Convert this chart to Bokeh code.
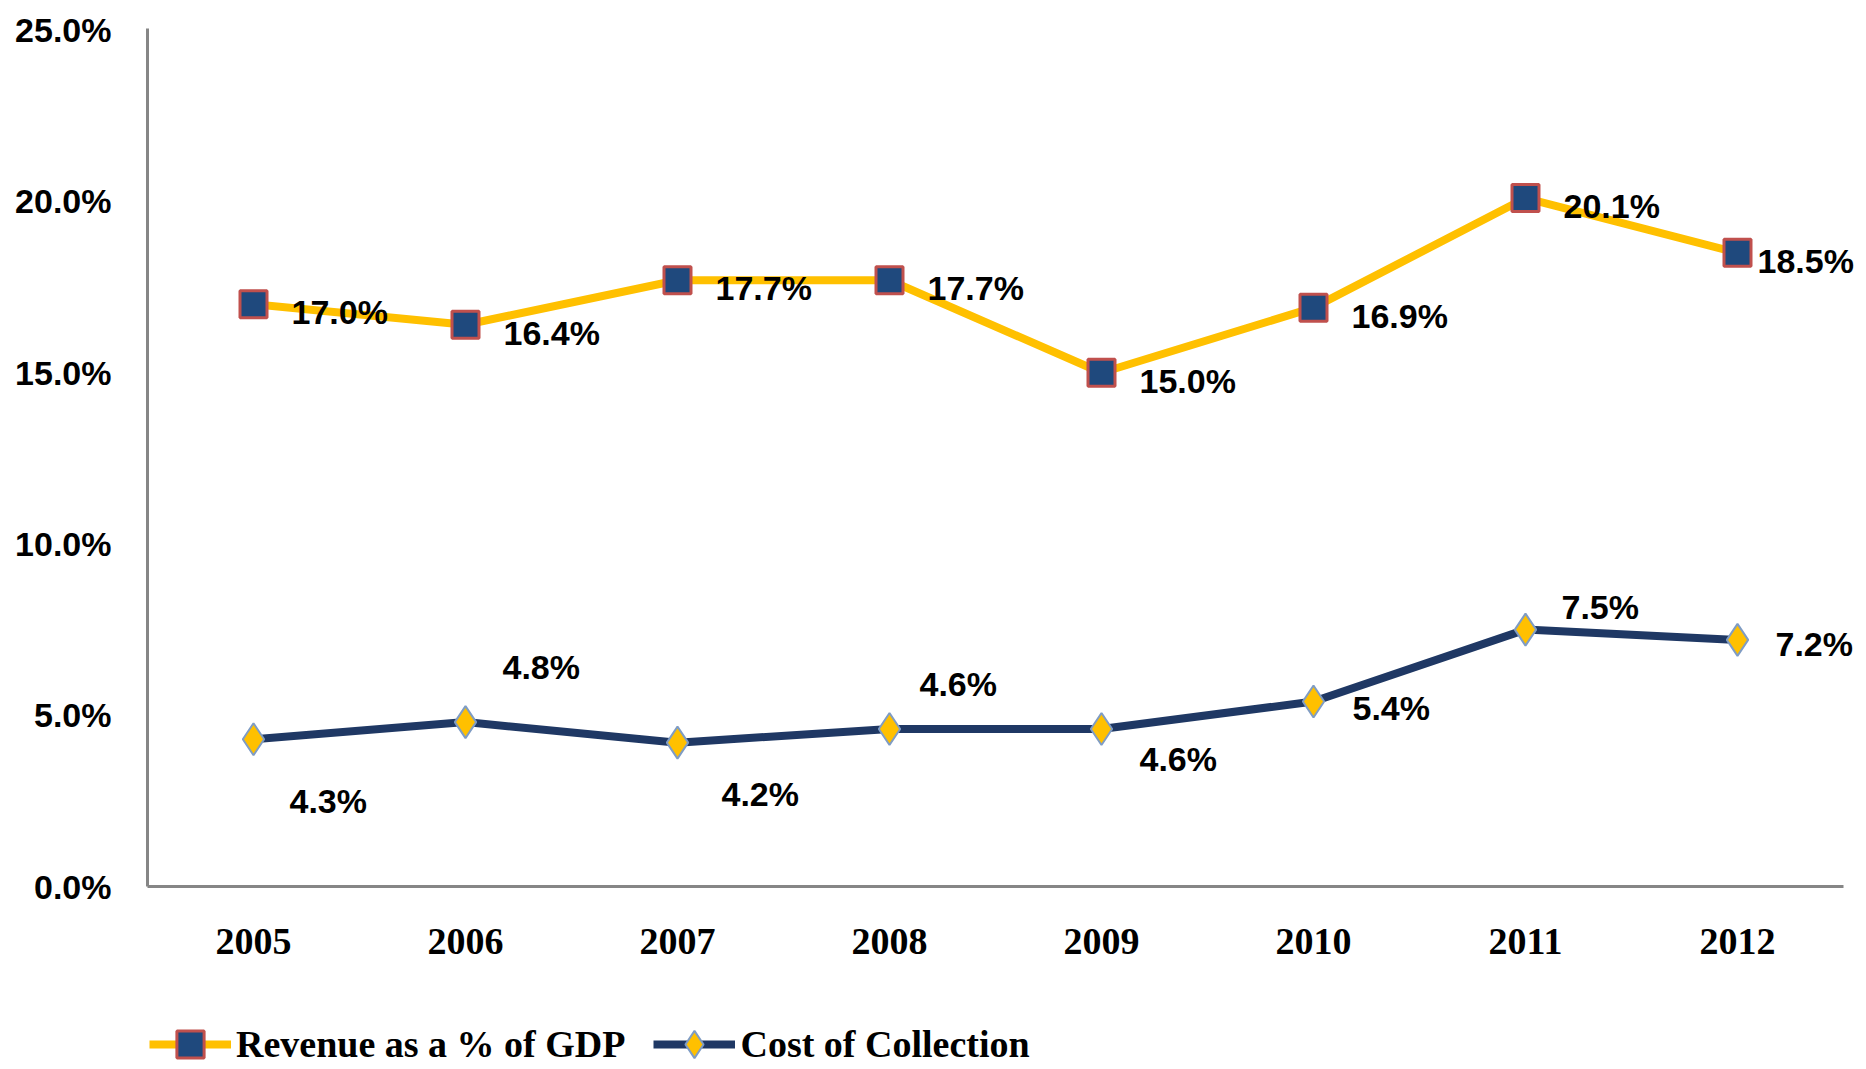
from bokeh.plotting import figure
from bokeh.layouts import column
from bokeh.models import (Range1d, FixedTicker, PrintfTickFormatter,
                          ColumnDataSource, Legend, LegendItem)
from bokeh.embed import file_html
from bokeh.resources import INLINE
from bokeh.core.properties import value

# ---- data ----
years = ["2005", "2006", "2007", "2008", "2009", "2010", "2011", "2012"]
revenue_pct = [17.0, 16.4, 17.7, 17.7, 15.0, 16.9, 20.1, 18.5]
cost_pct = [4.3, 4.8, 4.2, 4.6, 4.6, 5.4, 7.5, 7.2]
y_ticks = [0, 5, 10, 15, 20, 25]
series_names = ["Revenue as a % of GDP", "Cost of Collection"]

# ---- label placement (screen px offsets, style only) ----
rev_label_dx = [38, 38, 38, 38, 38, 38, 38, 20]
rev_label_dy = [8, 8, 8, 8, 8, 8, 8, 8]
cost_label_dx = [36, 37, 44, 30, 38, 39, 36, 38]
cost_label_dy = [62, -55, 51, -45, 30, 6, -23, 4]

REV_LINE = "#FFC000"
REV_FILL = "#1F497D"
REV_EDGE = "#C0504D"
COST_LINE = "#1F3864"
COST_FILL = "#FFC000"
COST_EDGE = "#7F9CC4"
AXIS = "#868686"

W = 1860
H1 = 980
H2 = 86
LEFT = 147
UNIT = 212.0  # px per category

xi = list(range(len(years)))
x_start = -0.5
x_end = x_start + (W - LEFT) / UNIT

rev_src = ColumnDataSource(dict(
    x=xi, y=revenue_pct,
    label=[f"{v:.1f}%" for v in revenue_pct],
    dx=rev_label_dx, dy=rev_label_dy))
cost_src = ColumnDataSource(dict(
    x=xi, y=cost_pct,
    label=[f"{v:.1f}%" for v in cost_pct],
    dx=cost_label_dx, dy=cost_label_dy))

p = figure(width=W, height=H1,
           x_range=Range1d(x_start, x_end),
           y_range=Range1d(0, 25.05),
           output_backend="svg", toolbar_location=None,
           min_border_left=LEFT, min_border_right=0,
           min_border_top=28, min_border_bottom=H1 - 886)

p.xgrid.visible = False
p.ygrid.visible = False
p.outline_line_color = None

p.yaxis.ticker = FixedTicker(ticks=y_ticks)
p.yaxis.formatter = PrintfTickFormatter(format="%.1f%%")
p.xaxis.ticker = FixedTicker(ticks=xi)
p.xaxis.major_label_overrides = {i: y for i, y in zip(xi, years)}
p.xaxis.bounds = (x_start, x_start + len(years))
for ax in (p.xaxis[0], p.yaxis[0]):
    ax.axis_line_color = AXIS
    ax.axis_line_width = 3
    ax.major_tick_line_color = None
    ax.minor_tick_line_color = None
    ax.major_tick_in = 0
    ax.major_tick_out = 0
p.yaxis.major_label_text_font = "Liberation Sans"
p.yaxis.major_label_text_font_size = "34px"
p.yaxis.major_label_text_font_style = "bold"
p.yaxis.major_label_text_color = "black"
p.yaxis.major_label_standoff = 36
p.xaxis.major_label_text_font = "Liberation Serif"
p.xaxis.major_label_text_font_size = "38px"
p.xaxis.major_label_text_font_style = "bold"
p.xaxis.major_label_text_color = "black"
p.xaxis.major_label_standoff = 42

rev_line_kw = dict(line_color=REV_LINE, line_width=8)
cost_line_kw = dict(line_color=COST_LINE, line_width=8)
rev_pt_kw = dict(marker="square", fill_color=REV_FILL, line_color=REV_EDGE, line_width=3)
cost_pt_kw = dict(marker="diamond", fill_color=COST_FILL, line_color=COST_EDGE, line_width=2)

p.line("x", "y", source=rev_src, **rev_line_kw)
p.line("x", "y", source=cost_src, **cost_line_kw)
p.scatter("x", "y", source=rev_src, size=27, **rev_pt_kw)
p.scatter("x", "y", source=cost_src, size=32, **cost_pt_kw)

for src in (rev_src, cost_src):
    p.text("x", "y", text="label", source=src, x_offset="dx", y_offset="dy",
           text_align="left", text_baseline="middle",
           text_font=value("Liberation Sans"), text_font_size="34px",
           text_font_style="bold", text_color="black")

# ---- legend strip (same series, drawn out of view; only the legend shows) ----
q = figure(width=W, height=H2,
           x_range=Range1d(x_start, x_end),
           y_range=Range1d(-200, -199),
           output_backend="svg", toolbar_location=None, min_border=0)
q.axis.visible = False
q.grid.visible = False
q.outline_line_color = None
l1 = q.line("x", "y", source=rev_src, **rev_line_kw)
m1 = q.scatter("x", "y", source=rev_src, **rev_pt_kw)
l2 = q.line("x", "y", source=cost_src, **cost_line_kw)
m2 = q.scatter("x", "y", source=cost_src, **cost_pt_kw)

legend = Legend(items=[
    LegendItem(label=series_names[0], renderers=[l1, m1]),
    LegendItem(label=series_names[1], renderers=[l2, m2]),
], orientation="horizontal", location=(2, -12))
legend.padding = 0
legend.margin = 0
legend.spacing = 28
legend.glyph_width = 82
legend.glyph_height = 68
legend.label_height = 68
legend.label_standoff = 5
legend.label_text_font = "Liberation Serif"
legend.label_text_font_size = "38px"
legend.label_text_font_style = "bold"
legend.label_text_color = "black"
legend.border_line_color = None
legend.background_fill_alpha = 0
q.add_layout(legend)

layout = column(p, q, spacing=0)
open("out.html", "w").write(file_html(layout, INLINE))
